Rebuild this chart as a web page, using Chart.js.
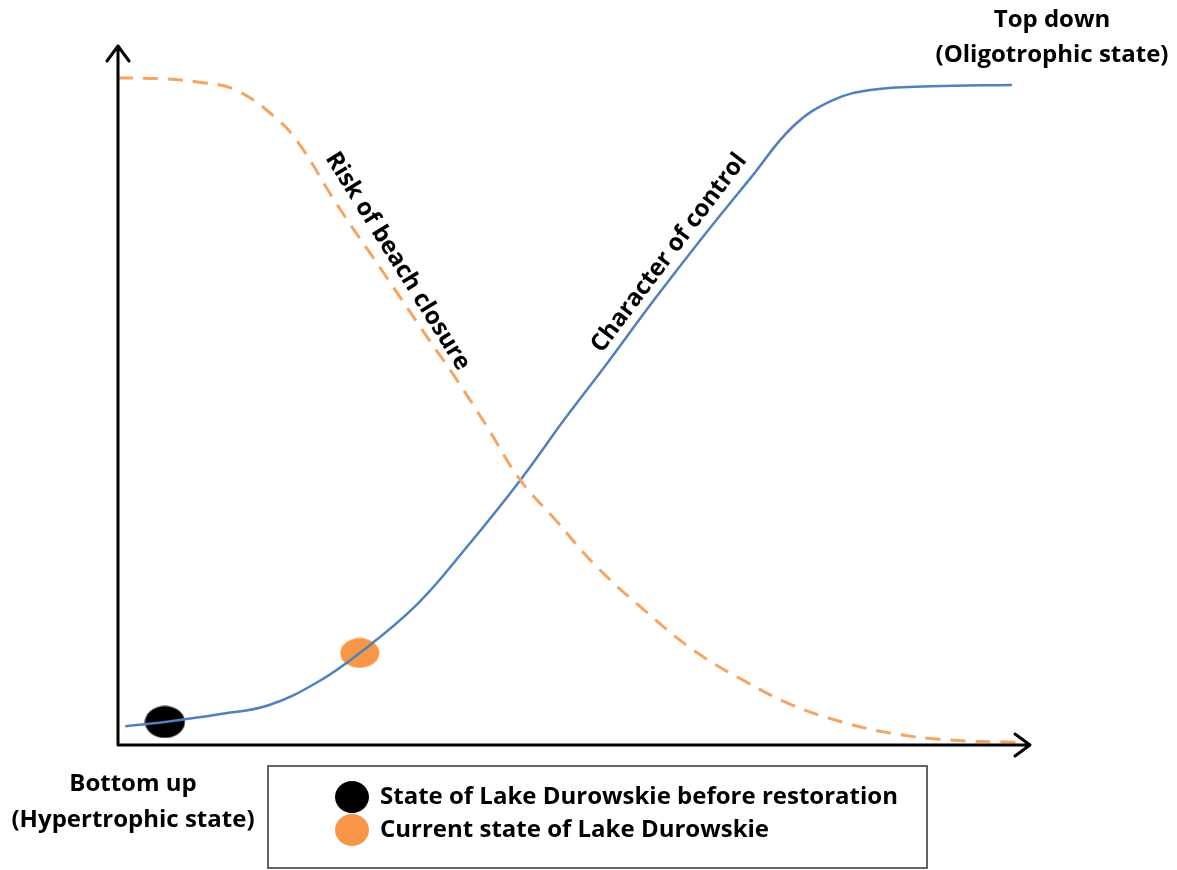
<!DOCTYPE html>
<html>
<head>
<meta charset="utf-8">
<script src="https://cdn.jsdelivr.net/npm/chart.js@4/dist/chart.umd.min.js"></script>
<style>
  html, body { margin: 0; padding: 0; background: #ffffff; }
  #wrap { width: 1177px; height: 870px; position: relative; }
</style>
</head>
<body>
<div id="wrap"><canvas id="chart" width="1177" height="870"></canvas></div>
<script>
// Character of control (solid blue sigmoid)
const controlX = [0.8, 5.2, 11.2, 16.7, 22.1, 26.8, 33.1, 38.6, 44.6, 49.6, 53.9, 59.4, 64.9, 70.1, 74.8, 79.2, 83.6, 90.1, 99.1];
const controlY = [2.7, 3.3, 4.4, 5.7, 9.0, 13.2, 20.1, 28.3, 38.0, 46.9, 54.2, 63.8, 73.0, 81.3, 88.7, 92.5, 94.0, 94.5, 94.7];

// Risk of beach closure (dashed orange reverse sigmoid)
const riskX = [0, 4.6, 9.0, 13.0, 17.4, 20.0, 24.3, 29.1, 34.5, 37.2, 40.8, 44.6, 48.5, 52.9, 58.3, 63.8, 69.3, 74.8, 80.3, 85.7, 92.3, 99.5];
const riskY = [95.7, 95.6, 95.1, 94.0, 90.1, 86.4, 77.5, 68.4, 58.1, 53.1, 45.9, 38.0, 32.3, 25.8, 19.4, 13.6, 9.3, 5.7, 3.3, 1.7, 0.7, 0.4];

// Lake states marked on the control curve
const stateLabels = ['State of Lake Durowskie before restoration', 'Current state of Lake Durowskie'];
const stateX = [5.2, 26.8];
const stateY = [3.3, 13.2];
const stateColors = ['#000000', '#F79646'];

const BLUE = '#4F81BD';
const ORANGE_DASH = '#F5A462';
const FONT = '"Open Sans", "DejaVu Sans", sans-serif';

function toPoints(xs, ys) {
    return xs.map((x, i) => ({ x: x, y: ys[i] }));
}

function makeEllipse(color, w, h) {
    const c = document.createElement('canvas');
    c.width = w;
    c.height = h;
    const g = c.getContext('2d');
    g.fillStyle = color;
    g.beginPath();
    g.ellipse(w / 2, h / 2, w / 2 - 0.5, h / 2 - 0.5, 0, 0, Math.PI * 2);
    g.fill();
    return c;
}

// Axes with open arrow heads, drawn along the chart area edges
const arrowAxes = {
    id: 'arrowAxes',
    afterDatasetsDraw(chart) {
        const { ctx, chartArea: a } = chart;
        ctx.save();
        ctx.strokeStyle = '#000';
        ctx.lineWidth = 3;
        ctx.lineCap = 'round';
        ctx.lineJoin = 'round';
        const tipY = a.top - 2;
        const tipX = a.right + 10;
        ctx.beginPath();
        ctx.moveTo(a.left, a.bottom);
        ctx.lineTo(a.left, tipY);
        ctx.moveTo(a.left - 11, tipY + 15);
        ctx.lineTo(a.left, tipY);
        ctx.lineTo(a.left + 11, tipY + 15);
        ctx.moveTo(a.left, a.bottom);
        ctx.lineTo(tipX, a.bottom);
        ctx.moveTo(tipX - 15, a.bottom - 11);
        ctx.lineTo(tipX, a.bottom);
        ctx.lineTo(tipX - 15, a.bottom + 11);
        ctx.stroke();
        ctx.restore();
    }
};

// Text annotations and the boxed legend
const annotations = {
    id: 'annotations',
    afterDraw(chart) {
        const { ctx } = chart;
        const xs = chart.scales.x, ys = chart.scales.y;
        ctx.save();
        ctx.fillStyle = '#000';
        ctx.textAlign = 'center';
        ctx.textBaseline = 'middle';
        ctx.font = 'bold 24px ' + FONT;
        ctx.fillText('Top down', 1052, 20);
        ctx.fillText('(Oligotrophic state)', 1052, 55);
        ctx.fillText('Bottom up', 133, 784);
        ctx.fillText('(Hypertrophic state)', 133, 820);

        // curve labels, rotated along each curve
        ctx.save();
        ctx.translate(xs.getPixelForValue(31.0), ys.getPixelForValue(69.4));
        ctx.rotate(58 * Math.PI / 180);
        ctx.fillText('Risk of beach closure', 0, 0);
        ctx.restore();
        ctx.save();
        ctx.translate(xs.getPixelForValue(61.1), ys.getPixelForValue(70.6));
        ctx.rotate(-53 * Math.PI / 180);
        ctx.fillText('Character of control', 0, 0);
        ctx.restore();

        // legend box
        ctx.strokeStyle = '#333';
        ctx.lineWidth = 1.5;
        ctx.strokeRect(268, 766, 659, 102);
        ctx.textAlign = 'left';
        stateLabels.forEach((label, i) => {
            const cy = 797 + i * 33;
            ctx.fillStyle = stateColors[i];
            ctx.beginPath();
            ctx.ellipse(352, cy, 17, 16, 0, 0, Math.PI * 2);
            ctx.fill();
            ctx.fillStyle = '#000';
            ctx.fillText(label, 380, cy);
        });
        ctx.restore();
    }
};

new Chart(document.getElementById('chart'), {
    type: 'scatter',
    data: {
        datasets: [
            {
                label: 'Risk of beach closure',
                data: toPoints(riskX, riskY),
                showLine: true,
                borderColor: ORANGE_DASH,
                borderWidth: 3,
                borderDash: [15, 10],
                pointRadius: 0,
                tension: 0.4
            },
            {
                label: 'Character of control',
                data: toPoints(controlX, controlY),
                showLine: true,
                borderColor: BLUE,
                borderWidth: 2.5,
                pointRadius: 0,
                tension: 0.4
            },
            {
                label: stateLabels[0],
                data: [{ x: stateX[0], y: stateY[0] }],
                pointStyle: makeEllipse(stateColors[0], 41, 33),
                pointRadius: 16
            },
            {
                label: stateLabels[1],
                data: [{ x: stateX[1], y: stateY[1] }],
                pointStyle: makeEllipse(stateColors[1], 40, 31),
                pointRadius: 15
            }
        ]
    },
    options: {
        responsive: false,
        animation: false,
        layout: { padding: { left: 118, right: 157, top: 48, bottom: 125 } },
        scales: {
            x: { type: 'linear', min: 0, max: 100, display: false },
            y: { type: 'linear', min: 0, max: 100, display: false }
        },
        plugins: {
            legend: { display: false },
            tooltip: { enabled: false }
        }
    },
    plugins: [arrowAxes, annotations]
});
</script>
</body>
</html>
